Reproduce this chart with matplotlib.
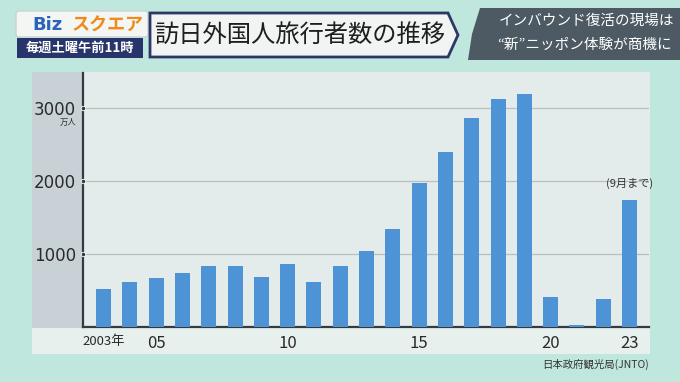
import matplotlib
matplotlib.use("Agg")
import matplotlib.pyplot as plt
from matplotlib.patches import Rectangle, Polygon, FancyBboxPatch
from matplotlib.transforms import blended_transform_factory

plt.rcParams['font.family'] = ['Noto Sans CJK JP', 'DejaVu Sans']

# ---- data (万人) ----
years = [2003, 2004, 2005, 2006, 2007, 2008, 2009, 2010, 2011, 2012, 2013,
         2014, 2015, 2016, 2017, 2018, 2019, 2020, 2021, 2022, 2023]
visitors = [521, 614, 673, 733, 835, 835, 679, 861, 622, 836, 1036,
            1341, 1974, 2404, 2869, 3119, 3188, 412, 25, 383, 1737]
ytick_vals = [1000, 2000, 3000]
ytick_labels = ["1000", "2000", "3000"]
xtick_vals = [2003, 2005, 2010, 2015, 2020, 2023]
xtick_labels = ["2003年", "05", "10", "15", "20", "23"]

title = "訪日外国人旅行者数の推移"
sub_title = ["インバウンド復活の現場は", "“新”ニッポン体験が商機に"]
logo_a, logo_b = "Biz", "スクエア"
schedule = "毎週土曜午前11時"
note = "(9月まで)"
source = "日本政府観光局(JNTO)"
unit = "万人"

W, H = 680, 382
fig = plt.figure(figsize=(W / 100, H / 100), dpi=100)
fig.patch.set_facecolor("#bfe7dd")

# background "pixel" axes for decoration
bg = fig.add_axes([0, 0, 1, 1])
bg.set_xlim(0, W)
bg.set_ylim(H, 0)
bg.axis("off")

# chart card
bg.add_patch(Rectangle((32, 72), 618, 282, facecolor="#e3ecea", edgecolor="none"))
bg.add_patch(Rectangle((32, 72), 51, 256, facecolor="#c8d1d6", edgecolor="none"))
bg.add_patch(Rectangle((32, 328), 618, 26, facecolor="#e8f0ee", edgecolor="none"))

# logo box
bg.add_patch(FancyBboxPatch((16, 11), 132, 26, boxstyle="round,pad=0,rounding_size=3",
                            facecolor="#f4f6f4", edgecolor="#c8d4d4", lw=1))
bg.text(47, 25, logo_a, color="#2b63b8", fontsize=13, fontweight="bold",
        ha="center", va="center", family=["DejaVu Sans"])
bg.text(108, 25, logo_b, color="#f08a1c", fontsize=13, fontweight="bold",
        ha="center", va="center")
# schedule box
bg.add_patch(Rectangle((17, 38), 126, 20, facecolor="#27356b", edgecolor="none"))
bg.text(80, 48, schedule, color="white", fontsize=9.5, fontweight="bold",
        ha="center", va="center")

# title banner
bg.add_patch(Polygon([(150, 13), (448, 13), (458, 35), (448, 57), (150, 57)],
                     closed=True, facecolor="#f1f4f3", edgecolor="#2c3766", lw=2))
bg.text(300, 35, title, color="#1e1e1e", fontsize=17.5, ha="center", va="center")

# right banner
bg.add_patch(Polygon([(480, 8), (680, 8), (680, 60), (468, 60), (472, 34)],
                     closed=True, facecolor="#4d5a63", edgecolor="none"))
bg.text(586, 21, sub_title[0], color="white", fontsize=10.5, ha="center", va="center")
bg.text(584, 45, sub_title[1], color="white", fontsize=10.5, ha="center", va="center")

# ---- main chart axes ----
ax = fig.add_axes([83 / W, 1 - 327 / H, (649 - 83) / W, (327 - 73) / H])
ax.set_facecolor("none")
ax.bar(years, visitors, width=0.57, color="#4d93d6", zorder=3)
ax.set_xlim(2002.22, 2023.74)
ax.set_ylim(0, 3480)

for s in ["top", "right"]:
    ax.spines[s].set_visible(False)
ax.spines["left"].set_color("#333a40")
ax.spines["left"].set_linewidth(1.6)
ax.spines["bottom"].set_color("#333a40")
ax.spines["bottom"].set_linewidth(1.6)

ax.set_yticks(ytick_vals)
ax.set_yticklabels(ytick_labels, fontsize=12, color="#2a2a2a", family=["DejaVu Sans"])
ax.tick_params(axis="y", length=0, pad=5)
ax.yaxis.grid(True, color="#b7bfbf", lw=0.9, zorder=1)

ax.set_xticks(xtick_vals)
ax.set_xticklabels(xtick_labels, fontsize=12, color="#2a2a2a")
ax.get_xticklabels()[0].set_fontsize(9.5)
ax.tick_params(axis="x", length=0, pad=6)

# dots at tick positions
tr = blended_transform_factory(ax.transAxes, ax.transData)
ax.plot([0] * len(ytick_vals), ytick_vals, "o", ms=3.2, color="#333a40",
        mec="white", mew=0.6, transform=tr, clip_on=False, zorder=5)

ax.text(-0.012, ytick_vals[-1] - 130, unit, transform=tr, fontsize=6,
        ha="right", va="top", color="#333")

ax.annotate(note, (years[-1], visitors[-1]), xytext=(0, 8), textcoords="offset points",
            ha="center", va="bottom", fontsize=8, color="#333")

bg.text(649, 364, source, fontsize=7.5, ha="right", va="center", color="#333")

fig.savefig("out.png", dpi=100, facecolor=fig.get_facecolor())
